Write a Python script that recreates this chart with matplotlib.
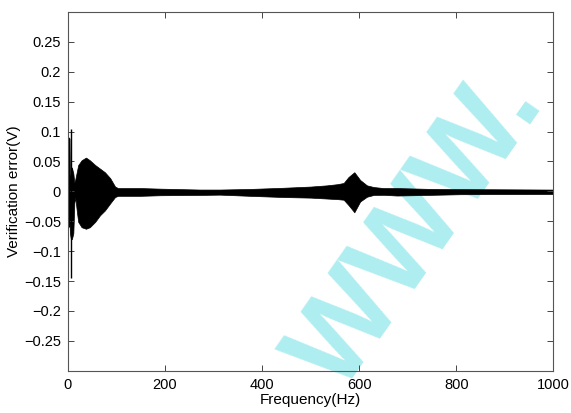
import numpy as np
import matplotlib
matplotlib.use("Agg")
import matplotlib.pyplot as plt

plt.rcParams['font.family'] = ['Liberation Sans', 'DejaVu Sans']

# Envelope of the dense verification-error signal
freq = [0, 2, 3, 4, 6, 8, 11, 13, 15, 18, 21, 28, 37, 45, 56, 66, 76, 87, 97, 103,
        150, 190, 272, 313, 375, 444, 500, 533, 555, 568, 578, 590, 602, 616, 630,
        650, 678, 740, 808, 877, 994, 1000]
upper = [0.09, 0.09, 0.088, 0.02, 0.03, 0.04, 0.03, 0.015, 0.02, 0.032, 0.044, 0.052,
         0.0565, 0.052, 0.044, 0.038, 0.032, 0.022, 0.008, 0.0055,
         0.0055, 0.0045, 0.003, 0.003, 0.004, 0.006, 0.008, 0.010, 0.012, 0.014, 0.024,
         0.032, 0.019, 0.010, 0.0072, 0.0055, 0.0055, 0.0042, 0.0037, 0.0035, 0.003, 0.003]
lower = [-0.02, -0.03, -0.05, -0.07, -0.08, -0.08, -0.07, -0.02, -0.01, -0.032, -0.051,
         -0.06, -0.0626, -0.06, -0.051, -0.040, -0.032, -0.020, -0.0095, -0.0075,
         -0.0075, -0.0065, -0.006, -0.0055, -0.0075, -0.0095, -0.0105, -0.012, -0.013, -0.014,
         -0.023, -0.035, -0.017, -0.009, -0.006, -0.0058, -0.007, -0.006, -0.0048,
         -0.0046, -0.0045, -0.0045]

# Isolated early spikes
spike_freq = [2, 6]
spike_top = [0.09, 0.105]
spike_bottom = [-0.06, -0.145]

xticks = [0, 200, 400, 600, 800, 1000]
yticks = [-0.25, -0.2, -0.15, -0.1, -0.05, 0, 0.05, 0.1, 0.15, 0.2, 0.25]
ytick_labels = ['\u22120.25', '\u22120.2', '\u22120.15', '\u22120.1', '\u22120.05', '0',
                '0.05', '0.1', '0.15', '0.2', '0.25']

fig = plt.figure(figsize=(5.71, 4.13), dpi=100)
ax = fig.add_axes([68/571, 1 - 370.7/413, (553.3 - 68)/571, (370.7 - 12)/413])
ax.patch.set_alpha(0)

ax.fill_between(freq, lower, upper, color='black', linewidth=0.5, edgecolor='black')
ax.vlines(spike_freq, spike_bottom, spike_top, color='black', linewidth=1.0)

ax.set_xlim(0, 1000)
ax.set_ylim(-0.3, 0.3)
ax.set_xticks(xticks)
ax.set_xticklabels([str(t) for t in xticks])
ax.set_yticks(yticks)
ax.set_yticklabels(ytick_labels)
ax.tick_params(direction='in', length=4, width=0.7, color='#444444', top=True, right=True,
               labelsize=10.5, pad=5)
for s in ax.spines.values():
    s.set_color('#555555')
    s.set_linewidth(0.8)
ax.set_xlabel('Frequency(Hz)', fontsize=11, labelpad=1)
ax.set_ylabel('Verification error(V)', fontsize=11, labelpad=2)

# Watermark (behind the data)
fig.text(418/571, 1 - 232/413, 'WWW.', fontsize=84, fontweight='bold', color='#aeedf0',
         rotation=55, ha='center', va='center', zorder=-1)

fig.savefig('out.png', dpi=100)
